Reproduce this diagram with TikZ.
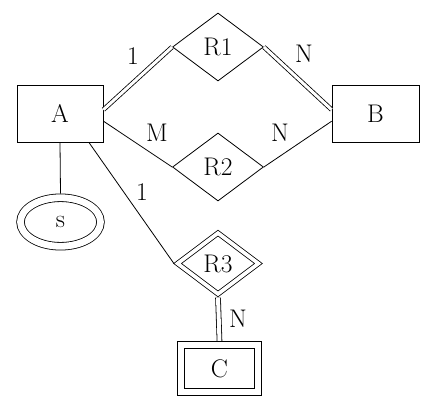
\documentclass[tikz,border=0pt]{standalone}
\usepackage{fontspec}
\usepackage{tikz}
\usetikzlibrary{shapes.geometric}

\begin{document}
\begin{tikzpicture}[x=1pt, y=-1pt, line width=0.8pt,
  every node/.style={font=\fontsize{25.5}{30}\selectfont, inner sep=0pt},
  entity/.style={draw, rectangle, minimum width=86pt, minimum height=57pt},
  weakentity/.style={draw, rectangle, double, double distance=6.4pt,
    minimum width=77pt, minimum height=47.5pt, outer sep=3.9pt},
  relation/.style={draw, diamond, minimum width=91pt, minimum height=68pt},
  weakrelation/.style={draw, diamond, double, double distance=3.7pt,
    minimum width=83pt, minimum height=63pt, outer sep=2.6pt},
  multivalued/.style={draw, ellipse, double, double distance=6.8pt,
    minimum width=80pt, minimum height=48.5pt, outer sep=4.1pt},
  total/.style={double, double distance=3pt}]
  \useasboundingbox (0,0) rectangle (426,410);
  % entities and relationships
  \node[entity] (A) at (60,113.5) {A};
  \node[entity, minimum width=87pt] (B) at (375.5,113.5) {B};
  \node[relation] (R1) at (218,47) {R1};
  \node[relation] (R2) at (218,167) {R2};
  \node[weakrelation] (R3) at (218,263.5) {R3};
  \node[weakentity] (C) at (219.5,368.5) {C};
  \node[multivalued] (s) at (60.5,222) {s};
  % connectors
  \draw[total] (A.5) -- (R1.west);
  \draw[total] (R1.east) -- (B.175);
  \draw (A.-10) -- (R2.west);
  \draw (R2.east) -- (B.190);
  \draw (A.-45) -- (R3.west);
  \draw (A.south) -- (s.north);
  \draw[total, double distance=4pt] (R3.south) -- (C.north);
  % cardinalities
  \node (c1) at (133,56) {1};
  \node (c2) at (304,54) {N};
  \node (c3) at (157,132.5) {M};
  \node (c4) at (280,133) {N};
  \node (c5) at (142,192) {1};
  \node (c6) at (238,319) {N};
\end{tikzpicture}
\end{document}
